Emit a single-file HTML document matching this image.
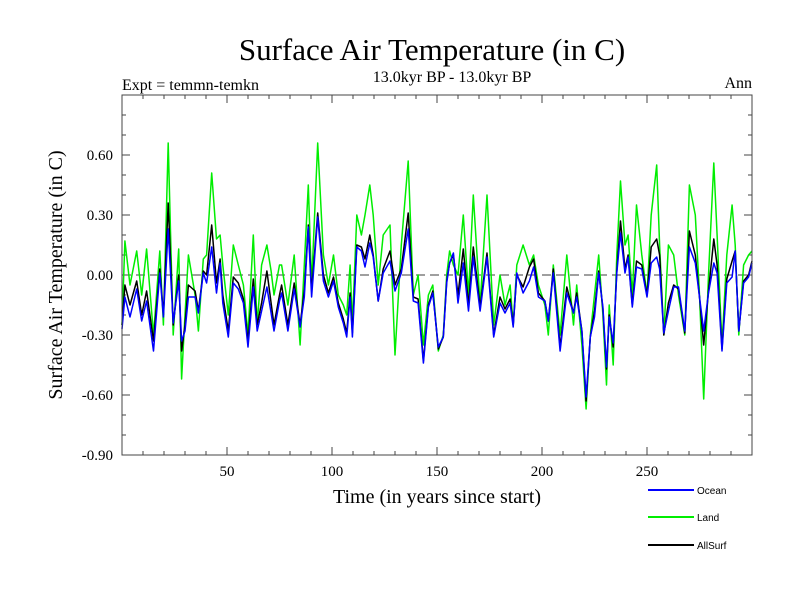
<!DOCTYPE html>
<html><head><meta charset="utf-8"><style>
body{margin:0;background:#fff;}
svg{display:block;}
.serif{font-family:"Liberation Serif",serif;}
.sans{font-family:"Liberation Sans",sans-serif;}
</style></head><body>
<svg id="chart" width="800" height="600" viewBox="0 0 800 600">
<text class="serif" x="432" y="60" font-size="31" text-anchor="middle">Surface Air Temperature (in C)</text>
<text class="serif" x="452" y="82" font-size="16" text-anchor="middle">13.0kyr BP - 13.0kyr BP</text>
<text class="serif" x="122" y="90" font-size="16">Expt = temmn-temkn</text>
<text class="serif" x="752" y="88" font-size="16" text-anchor="end">Ann</text>
<text class="serif" x="437" y="503" font-size="20" text-anchor="middle">Time (in years since start)</text>
<text class="serif" x="0" y="0" font-size="20" text-anchor="middle" transform="translate(62,275) rotate(-90)">Surface Air Temperature (in C)</text>
<g id="axes"></g>
<g id="series"></g>
<rect x="122" y="95" width="630" height="360" fill="none" stroke="#444" stroke-width="1"/>
<g id="legend"></g>
</svg>
<script>
const years = [0,1.4,3.8,7,9.4,11.7,15,18,19.7,22,24.4,27,28.4,30,31.6,34.8,36.4,38.7,40.3,42.7,45,46.7,48,50.6,53,55.4,57.8,60,62.5,64.4,66.5,69,71,72.4,75,
76,79,82,84.8,86.8,88.7,90.3,93.2,95.9,98.3,100.7,103,105.4,107,108.6,109.7,111.8,114,115.7,118,119.6,122,124.4,127.6,130,133,136.3,138.7,141,143.5,145.9,
148,150.6,153,154.6,156,157.8,160,162.5,165,167.3,170.5,173.8,177,180,182.4,184.8,186.3,188,191,194,196,198.3,201.4,203,205.4,208.6,211.8,215,216.5,219,221,
223,225,227,229,230.7,232,233.9,235.6,237.4,239.5,241,243,245,247.5,250,252,254.6,256,258,260.2,262.7,265,268,270.2,273,275,277,279.3,281.8,283.4,285.7,288,290.5,292,293.7,296,298.4,300];
const ocean = [-0.27,-0.11,-0.21,-0.07,-0.23,-0.13,-0.38,0.01,-0.21,0.23,-0.24,-0.03,-0.33,-0.28,-0.11,-0.11,-0.19,0.01,-0.04,0.14,-0.09,0.06,-0.14,-0.31,-0.04,-0.07,-0.14,-0.36,-0.06,-0.28,-0.18,-0.06,-0.19,-0.28,-0.13,
-0.09,-0.28,-0.07,-0.26,-0.11,0.24,-0.11,0.29,-0.03,-0.11,-0.03,-0.16,-0.24,-0.31,-0.11,-0.31,0.14,0.12,0.04,0.16,0.09,-0.13,0.01,0.07,-0.08,0.01,0.23,-0.13,-0.14,-0.44,-0.16,
-0.09,-0.36,-0.31,-0.04,0.06,0.11,-0.14,0.06,-0.18,0.09,-0.18,0.09,-0.31,-0.14,-0.19,-0.14,-0.26,0.01,-0.09,-0.03,0.04,-0.11,-0.13,-0.23,0.01,-0.38,-0.09,-0.19,-0.11,-0.28,-0.61,
-0.31,-0.21,0.01,-0.16,-0.46,-0.21,-0.34,0.01,0.21,0.01,0.09,-0.16,0.04,0.03,-0.11,0.06,0.09,0.03,-0.29,-0.18,-0.06,-0.06,-0.28,0.14,0.06,-0.11,-0.28,-0.09,0.06,0.01,-0.38,-0.04,-0.01,0.12,-0.28,-0.04,-0.01,0.06];
const land = [-0.25,0.17,-0.05,0.12,-0.10,0.13,-0.30,0.12,-0.25,0.66,-0.30,0.13,-0.52,-0.20,0.10,-0.10,-0.28,0.08,0.10,0.51,0.18,0.20,0.05,-0.20,0.15,0.05,-0.05,-0.30,0.20,-0.25,0.05,0.15,0.02,-0.10,0.05,
0.05,-0.15,0.10,-0.35,0.05,0.45,-0.05,0.66,0.10,-0.05,0.10,-0.10,-0.15,-0.20,0.05,-0.25,0.30,0.20,0.30,0.45,0.30,-0.05,0.20,0.25,-0.40,0.15,0.57,-0.10,0.00,-0.35,-0.10,
-0.05,-0.38,-0.30,0.00,0.12,0.05,0.00,0.30,-0.10,0.40,-0.15,0.40,-0.25,0.00,-0.15,-0.05,-0.25,0.05,0.15,0.05,0.10,-0.05,-0.15,-0.30,0.05,-0.30,0.10,-0.25,-0.05,-0.35,-0.67,
-0.30,-0.10,0.10,-0.20,-0.55,-0.15,-0.45,0.10,0.47,0.15,0.20,-0.10,0.35,0.10,-0.10,0.30,0.55,0.15,-0.30,0.15,0.10,-0.10,-0.30,0.45,0.30,-0.10,-0.62,0.00,0.56,0.20,-0.35,0.10,0.35,0.15,-0.30,0.05,0.10,0.12];
const allsurf = [-0.25,-0.05,-0.15,-0.03,-0.20,-0.08,-0.33,0.03,-0.20,0.36,-0.25,0.00,-0.38,-0.25,-0.05,-0.08,-0.18,0.02,0.00,0.25,-0.04,0.08,-0.10,-0.28,-0.01,-0.04,-0.12,-0.33,-0.02,-0.25,-0.14,0.02,-0.14,-0.25,-0.10,
-0.05,-0.25,-0.04,-0.25,-0.08,0.25,-0.08,0.31,0.00,-0.09,-0.01,-0.14,-0.22,-0.29,-0.09,-0.29,0.15,0.14,0.08,0.20,0.10,-0.13,0.03,0.12,-0.05,0.03,0.31,-0.11,-0.12,-0.43,-0.15,
-0.08,-0.37,-0.31,-0.03,0.06,0.10,-0.10,0.13,-0.15,0.14,-0.16,0.11,-0.30,-0.11,-0.17,-0.12,-0.25,0.00,-0.06,0.04,0.08,-0.09,-0.13,-0.23,0.03,-0.36,-0.06,-0.19,-0.09,-0.28,-0.63,
-0.31,-0.18,0.02,-0.17,-0.47,-0.20,-0.36,0.02,0.27,0.03,0.10,-0.15,0.07,0.05,-0.10,0.14,0.18,0.10,-0.30,-0.14,-0.05,-0.07,-0.29,0.22,0.10,-0.11,-0.35,-0.08,0.18,0.05,-0.37,-0.02,0.07,0.12,-0.28,-0.03,0.00,0.07];
const yTicks = [0.60,0.30,0.00,-0.30,-0.60,-0.90];
const yTickLabels = ["0.60","0.30","0.00","-0.30","-0.60","-0.90"];
const xTicks = [50,100,150,200,250];
const xTickLabels = ["50","100","150","200","250"];

const NS='http://www.w3.org/2000/svg';
const X0=122,X1=752,Y0=95,Y1=455,XMIN=0,XMAX=300,YMIN=-0.9,YMAX=0.9;
function xs(v){return X0+(v-XMIN)/(XMAX-XMIN)*(X1-X0);}
function ys(v){return Y1-(v-YMIN)/(YMAX-YMIN)*(Y1-Y0);}
function mk(tag,attrs,parent){const e=document.createElementNS(NS,tag);for(const k in attrs)e.setAttribute(k,attrs[k]);parent.appendChild(e);return e;}
const axes=document.getElementById('axes');
for(let i=-9;i<=9;i++){const y=ys(i/10);const major=(i%3===0);
 for(const side of [X0,X1]){const dir=side===X0?1:-1;
  const t=mk('line',{x1:side,x2:side+dir*(major?8:4),y1:y,y2:y,stroke:'#444','stroke-width':1},axes);
  
  }}
yTicks.forEach((v,i)=>{const t=mk('text',{x:113,y:ys(v)+5,'font-size':15,'text-anchor':'end',class:'serif'},axes);t.textContent=yTickLabels[i];
 
 });
for(let v=10;v<300;v+=10){const major=(v%50===0);
 for(const side of [Y0,Y1]){const dir=side===Y1?-1:1;
  const t=mk('line',{x1:xs(v),x2:xs(v),y1:side,y2:side+dir*(major?8:4),stroke:'#444','stroke-width':1},axes);
  
  }}
xTicks.forEach((v,i)=>{const t=mk('text',{x:xs(v),y:476,'font-size':15,'text-anchor':'middle',class:'serif'},axes);t.textContent=xTickLabels[i];
 
 });
const zl=mk('line',{x1:X0,x2:X1,y1:ys(0),y2:ys(0),stroke:'#666','stroke-width':1.3,'stroke-dasharray':'9,5'},axes);


const ser=document.getElementById('series');
function line(vals,color,name){const d=vals.map((v,i)=>(i?'L':'M')+xs(years[i]).toFixed(1)+','+ys(v).toFixed(1)).join('');
 const p=mk('path',{d:d,fill:'none',stroke:color,'stroke-width':1.5,'stroke-linejoin':'round'},ser);
 
 }
line(land,'#00ee00','land-line');
line(allsurf,'#000000','allsurf-line');
line(ocean,'#0000ff','ocean-line');
const lg=document.getElementById('legend');
const legNames=['Ocean','Land','AllSurf'];const legCols=['#0000ff','#00ee00','#000000'];const legY=[490,517,545];
legNames.forEach((n,i)=>{
 const l=mk('line',{x1:648,x2:694,y1:legY[i],y2:legY[i],stroke:legCols[i],'stroke-width':2},lg);
 
 
 const t=mk('text',{x:697,y:legY[i]+4,'font-size':10,class:'sans'},lg);t.textContent=n;
 
 });
</script>
</body></html>
